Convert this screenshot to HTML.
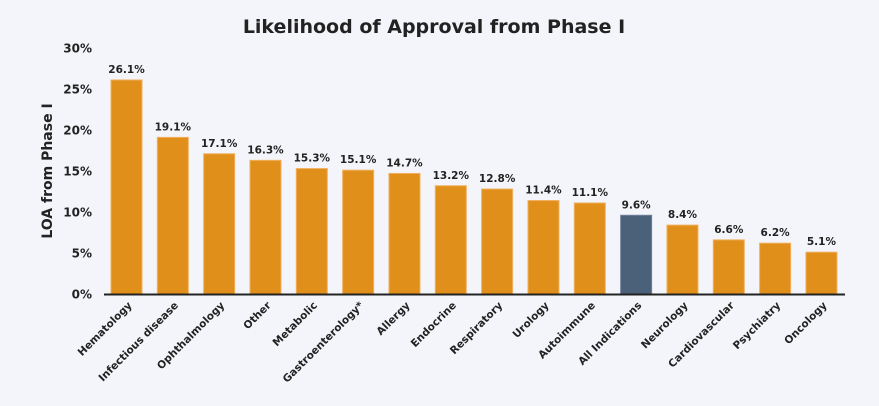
<!DOCTYPE html>
<html><head><meta charset="utf-8"><style>
body{margin:0;background:#f4f5fa;}
svg{display:block;font-family:"DejaVu Sans","Liberation Sans",sans-serif;font-weight:bold;}
</style></head><body>
<svg id="chart" width="879" height="406" viewBox="0 0 879 406">
<rect width="879" height="406" fill="#f4f5fa"/>
<text x="434" y="33" text-anchor="middle" font-size="19" fill="#222">Likelihood of Approval from Phase I</text>
<text transform="translate(52,171) rotate(-90)" text-anchor="middle" font-size="14" fill="#222">LOA from Phase I</text>
<g id="yticks"></g><g id="bars"></g><g id="xlabels"></g>
<line x1="104" y1="294.5" x2="845" y2="294.5" stroke="#222" stroke-width="2"/>
</svg>
<script>
const categories=["Hematology","Infectious disease","Ophthalmology","Other","Metabolic","Gastroenterology*","Allergy","Endocrine","Respiratory","Urology","Autoimmune","All Indications","Neurology","Cardiovascular","Psychiatry","Oncology"];
const values=[26.1,19.1,17.1,16.3,15.3,15.1,14.7,13.2,12.8,11.4,11.1,9.6,8.4,6.6,6.2,5.1];
const tickValues=[0,5,10,15,20,25,30];
const NS="http://www.w3.org/2000/svg";
const y=v=>294-v*8.2;
const x=i=>126.5+i*46.33;
const yt=document.getElementById('yticks'),bg=document.getElementById('bars'),xl=document.getElementById('xlabels');
function mk(tag,attrs,parent){const e=document.createElementNS(NS,tag);for(const k in attrs)e.setAttribute(k,attrs[k]);parent.appendChild(e);return e;}
tickValues.forEach(t=>{
  const e=mk('text',{x:92,y:y(t)+4.5,'text-anchor':'end','font-size':12,fill:'#222'},yt);
  e.textContent=t+'%';
  
  
});
categories.forEach((c,i)=>{
  const isAll=c==="All Indications";
  const r=mk('rect',{x:x(i)-15.5,y:y(values[i]),width:31,height:294-y(values[i]),fill:isAll?'#4b6079':'#e0901a',stroke:isAll?'#6f8199':'#f0b060','stroke-width':1},bg);
  
  
  const v=mk('text',{x:x(i),y:y(values[i])-7,'text-anchor':'middle','font-size':10.5,fill:'#222'},bg);
  v.textContent=values[i].toFixed(1)+'%';
  
  
  const l=mk('text',{transform:`translate(${x(i)+6},${306}) rotate(-45)`,'text-anchor':'end','font-size':10.5,fill:'#222'},xl);
  l.textContent=c;
  
  
});
</script>
</body></html>
